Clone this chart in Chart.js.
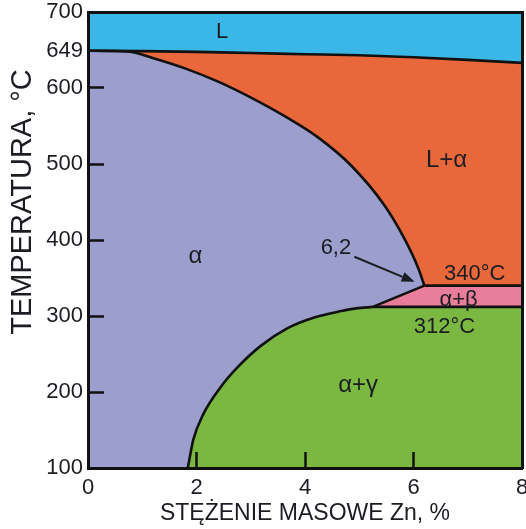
<!DOCTYPE html>
<html>
<head>
<meta charset="utf-8">
<script src="https://cdn.jsdelivr.net/npm/chart.js@4/dist/chart.umd.min.js"></script>
<style>
  html, body { margin: 0; padding: 0; background: #ffffff; }
  #wrap { width: 526px; height: 529px; }
</style>
</head>
<body>
<div id="wrap"><canvas id="c" width="526" height="529"></canvas></div>
<script>
// Mg–Zn phase diagram, Mg-rich corner (0–8 % Zn)

// Axis ranges and tick labels
const xTickValues = [0, 2, 4, 6, 8];
const yTickValues = [100, 200, 300, 400, 500, 600, 649, 700];

// Phase boundaries: [Zn mass %, temperature °C]
const liquidus = [[0, 649], [1, 648.5], [2, 647.5], [3, 646], [4, 644.5], [5, 643], [6, 640.5], [7, 637], [8, 633]];
const solidus = [[0, 649], [0.74, 648], [1.19, 639.5], [1.8, 625.5], [2.41, 608], [3.04, 586], [3.61, 563.5],
                 [4.24, 535], [4.85, 498], [5.46, 446], [5.83, 402], [6.09, 362.5], [6.2, 340]];
const solvusBeta = [[5.25, 312], [6.2, 340]];
const solvusGamma = [[1.84, 100], [1.94, 137], [2.13, 171.5], [2.44, 206], [2.75, 232], [3.19, 261], [3.68, 284],
                     [4.17, 298], [4.67, 306.5], [4.94, 310], [5.25, 312]];
const eutecticTemp = 340;
const lowerTemp = 312;
const zMin = 0, zMax = 8, tMin = 100, tMax = 700;

// Label texts
const regionLabels = [
  { text: 'L', at: [2.47, 674], size: 22 },
  { text: 'L+\u03b1', at: [6.61, 505], size: 24 },
  { text: '\u03b1', at: [1.98, 378], size: 24 },
  { text: '6,2', at: [4.57, 389], size: 22 },
  { text: '340\u00b0C', at: [7.13, 356], size: 22 },
  { text: '\u03b1+\u03b2', at: [6.83, 321], size: 22 },
  { text: '312\u00b0C', at: [6.57, 285], size: 22 },
  { text: '\u03b1+\u03b3', at: [4.98, 209], size: 24 }
];
const arrowFrom = [4.91, 378];
const arrowTo = [6.02, 345];
const yTitle = 'TEMPERATURA, \u00b0C';
const xTitle = 'ST\u0118\u017bENIE MASOWE Zn, %';

const FONT = "'Liberation Sans', Arial, Helvetica, sans-serif";
const INK = '#1b1d22';
const LINE = '#111111';

const pts = arr => arr.map(([x, y]) => ({ x, y }));
const rev = arr => arr.slice().reverse();

const edgeTop = solvusBeta[solvusBeta.length - 1]; // (6.2, 340)
const edgeLow = solvusBeta[0];                      // (5.25, 312)

// Closed phase fields built from the boundaries
const fieldL = [[zMin, tMax], [zMax, tMax], ...rev(liquidus)];
const fieldLA = [...liquidus, [zMax, eutecticTemp], ...rev(solidus)];
const fieldA = [[zMin, tMin], ...solidus, ...rev(solvusBeta), ...rev(solvusGamma)];
const fieldAB = [edgeTop, [zMax, eutecticTemp], [zMax, lowerTemp], edgeLow];
const fieldAG = [...solvusGamma, [zMax, lowerTemp], [zMax, tMin]];

const field = (data, color) => ({
  data: pts(data), backgroundColor: color, borderWidth: 0, pointRadius: 0,
  fill: 'shape', tension: 0, order: 2
});
const boundary = (data, smooth) => ({
  data: pts(data), borderColor: LINE, borderWidth: 2.6, pointRadius: 0, fill: false,
  cubicInterpolationMode: smooth ? 'monotone' : 'default', tension: 0, order: 1
});

const labelsPlugin = {
  id: 'phaseLabels',
  afterDraw(chart) {
    const { ctx, scales: { x, y }, chartArea } = chart;
    ctx.save();
    ctx.fillStyle = INK;
    ctx.textAlign = 'center';
    ctx.textBaseline = 'middle';
    for (const l of regionLabels) {
      ctx.font = `${l.size}px ${FONT}`;
      ctx.fillText(l.text, x.getPixelForValue(l.at[0]), y.getPixelForValue(l.at[1]));
    }
    // arrow pointing at the maximum solubility
    const x0 = x.getPixelForValue(arrowFrom[0]), y0 = y.getPixelForValue(arrowFrom[1]);
    const x1 = x.getPixelForValue(arrowTo[0]), y1 = y.getPixelForValue(arrowTo[1]);
    const ang = Math.atan2(y1 - y0, x1 - x0);
    const head = 13, half = 5;
    const bx = x1 - head * Math.cos(ang), by = y1 - head * Math.sin(ang);
    ctx.strokeStyle = INK;
    ctx.lineWidth = 2;
    ctx.beginPath();
    ctx.moveTo(x0, y0);
    ctx.lineTo(bx, by);
    ctx.stroke();
    ctx.beginPath();
    ctx.moveTo(x1, y1);
    ctx.lineTo(bx + half * Math.sin(ang), by - half * Math.cos(ang));
    ctx.lineTo(bx - half * Math.sin(ang), by + half * Math.cos(ang));
    ctx.closePath();
    ctx.fill();
    // vertical axis title
    ctx.translate(chartArea.left - 65, y.getPixelForValue(450));
    ctx.rotate(-Math.PI / 2);
    ctx.font = `29px ${FONT}`;
    ctx.fillText(yTitle, 0, 0);
    ctx.restore();
  }
};

const hideAt = list => c => (c.tick && list.includes(c.tick.value)) ? 'rgba(0,0,0,0)' : LINE;
const noPad = s => { s.paddingLeft = 0; s.paddingRight = 0; s.paddingTop = 0; s.paddingBottom = 0; };

new Chart(document.getElementById('c'), {
  type: 'line',
  data: {
    datasets: [
      field(fieldL, '#3ab7e6'),
      field(fieldLA, '#e9683b'),
      field(fieldA, '#9c9fcd'),
      field(fieldAB, '#e97d9c'),
      field(fieldAG, '#7bb842'),
      boundary(liquidus, true),
      boundary(solidus, true),
      boundary(solvusBeta, false),
      boundary(solvusGamma, true),
      boundary([edgeTop, [zMax, eutecticTemp]], false),
      boundary([edgeLow, [zMax, lowerTemp]], false)
    ]
  },
  options: {
    responsive: false,
    devicePixelRatio: 1,
    animation: false,
    layout: { padding: { top: 12, right: 4, left: 0, bottom: 0 } },
    plugins: { legend: { display: false }, tooltip: { enabled: false } },
    scales: {
      x: {
        type: 'linear', position: 'bottom', min: zMin, max: zMax,
        afterBuildTicks: s => { s.ticks = xTickValues.map(v => ({ value: v })); },
        ticks: { color: INK, font: { family: FONT, size: 22 }, padding: 23, maxRotation: 0, autoSkip: false },
        grid: { drawOnChartArea: false, drawTicks: true, tickLength: -16, tickWidth: 2.5,
                tickColor: hideAt([zMin, zMax]), z: 1 },
        border: { color: LINE, width: 3, z: 1 },
        title: { display: true, text: xTitle, color: INK, font: { family: FONT, size: 23 },
                 padding: { top: 0, bottom: 2 } },
        afterFit: s => { s.height = 61; noPad(s); }
      },
      y: {
        type: 'linear', position: 'left', min: tMin, max: tMax,
        afterBuildTicks: s => { s.ticks = yTickValues.map(v => ({ value: v })); },
        ticks: { color: INK, font: { family: FONT, size: 22 }, padding: 21, autoSkip: false },
        grid: { drawOnChartArea: false, drawTicks: true, tickLength: -16, tickWidth: 2.5,
                tickColor: hideAt([tMin, 649, tMax]), z: 1 },
        border: { color: LINE, width: 3, z: 1 },
        afterFit: s => { s.width = 88; noPad(s); }
      },
      xTop: {
        type: 'linear', position: 'top', min: zMin, max: zMax,
        ticks: { display: false }, grid: { display: false, drawTicks: false },
        border: { color: LINE, width: 3, z: 1 },
        afterFit: s => { s.height = 0; noPad(s); }
      },
      yRight: {
        type: 'linear', position: 'right', min: tMin, max: tMax,
        ticks: { display: false }, grid: { display: false, drawTicks: false },
        border: { color: LINE, width: 3, z: 1 },
        afterFit: s => { s.width = 0; noPad(s); }
      }
    }
  },
  plugins: [labelsPlugin]
});
</script>
</body>
</html>
